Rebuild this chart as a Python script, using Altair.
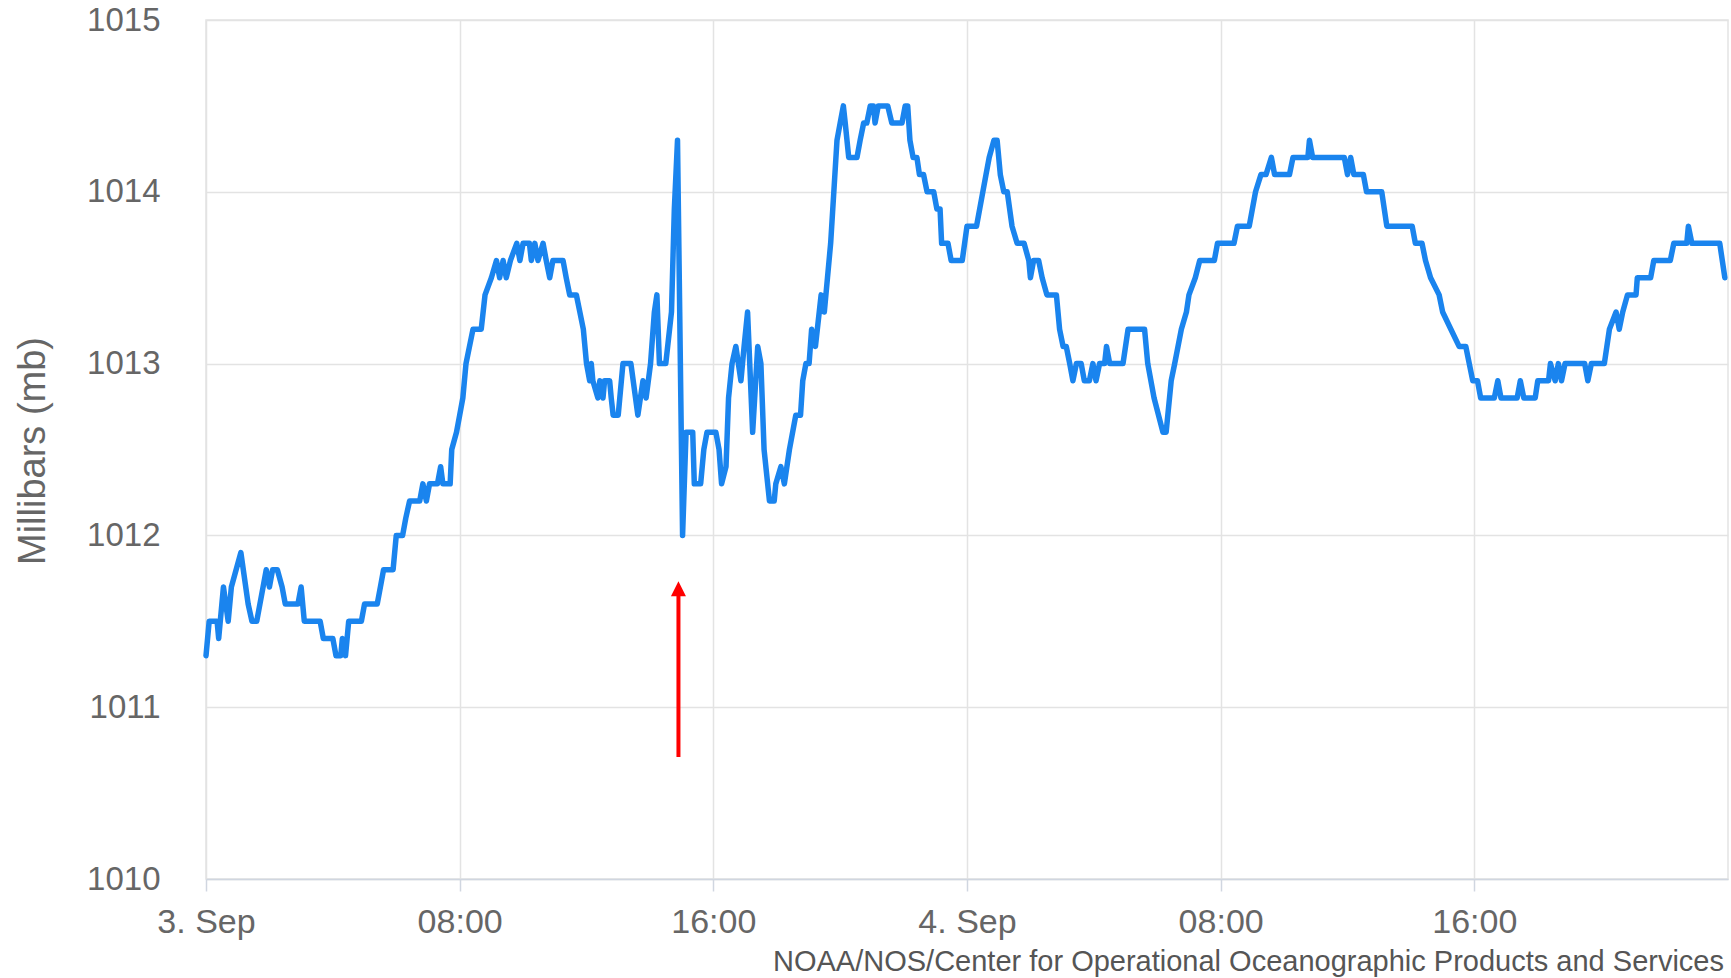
import altair as alt
import pandas as pd

# Hours since 3 Sep 00:00 and barometric pressure (mb)
HOURS = [
    0.0, 0.1, 0.35, 0.4, 0.55, 0.7, 0.8, 1.1, 1.33, 1.45, 1.6, 1.8, 1.9, 2.0, 2.1, 2.25,
    2.4, 2.5, 2.9, 3.0, 3.1, 3.6, 3.7, 4.0, 4.1, 4.25, 4.3, 4.4, 4.5, 4.9, 5.0, 5.4,
    5.5, 5.6, 5.9, 6.0, 6.2, 6.3, 6.42, 6.74, 6.84, 6.95, 7.05, 7.3, 7.4, 7.47, 7.7,
    7.75, 7.9, 8.0, 8.1, 8.2, 8.42, 8.68, 8.8, 9.0, 9.16, 9.26, 9.37, 9.47, 9.6, 9.8,
    9.9, 10.0, 10.2, 10.26, 10.37, 10.47, 10.63, 10.73, 10.84, 10.94, 11.26, 11.36,
    11.47, 11.68, 11.79, 11.9, 12.0, 12.1, 12.15, 12.2, 12.36, 12.42, 12.52, 12.57,
    12.73, 12.78, 12.84, 13.0, 13.15, 13.4, 13.62, 13.78, 13.88, 14.02, 14.14, 14.22,
    14.3, 14.5, 14.68, 14.77, 14.87, 15.03, 15.14, 15.35, 15.4, 15.6, 15.7, 15.8,
    16.08, 16.18, 16.26, 16.4, 16.48, 16.59, 16.71, 16.87, 16.97, 17.08, 17.24, 17.4,
    17.5, 17.6, 17.77, 17.92, 17.97, 18.13, 18.24, 18.4, 18.6, 18.75, 18.82, 18.92,
    19.02, 19.1, 19.22, 19.4, 19.5, 19.6, 19.7, 19.8, 19.9, 20.0, 20.1, 20.16, 20.27,
    20.53, 20.63, 20.74, 20.84, 20.95, 21.05, 21.1, 21.2, 21.5, 21.63, 21.95, 22.05,
    22.13, 22.2, 22.3, 22.42, 22.5, 22.63, 22.74, 22.95, 23.05, 23.15, 23.2, 23.4,
    23.5, 23.85, 24.0, 24.3, 24.4, 24.5, 24.6, 24.7, 24.85, 24.95, 25.05, 25.16,
    25.27, 25.42, 25.58, 25.8, 25.95, 26.0, 26.1, 26.26, 26.37, 26.52, 26.82, 26.92,
    27.03, 27.13, 27.24, 27.34, 27.45, 27.6, 27.7, 27.86, 27.97, 28.07, 28.18, 28.34,
    28.4, 28.5, 28.92, 29.08, 29.6, 29.7, 29.9, 30.18, 30.28, 30.44, 30.55, 30.76,
    30.92, 31.0, 31.2, 31.34, 31.8, 31.9, 32.42, 32.53, 32.9, 33.0, 33.1, 33.27,
    33.43, 33.6, 33.7, 34.17, 34.28, 34.75, 34.8, 34.9, 35.9, 36.0, 36.1, 36.2, 36.5,
    36.6, 37.08, 37.24, 38.04, 38.14, 38.35, 38.46, 38.62, 38.89, 39.0, 39.26, 39.52,
    39.73, 39.95, 40.1, 40.2, 40.63, 40.74, 40.84, 41.35, 41.45, 41.56, 41.92, 42.0,
    42.34, 42.4, 42.55, 42.65, 42.75, 42.86, 43.48, 43.58, 43.69, 44.1, 44.26, 44.47,
    44.57, 44.68, 44.83, 45.1, 45.14, 45.56, 45.66, 46.18, 46.29, 46.7, 46.75, 46.86,
    47.74, 47.9,
]
PRESSURE = [
    1011.3, 1011.5, 1011.5, 1011.4, 1011.7, 1011.5, 1011.7, 1011.9, 1011.6, 1011.5,
    1011.5, 1011.7, 1011.8, 1011.7, 1011.8, 1011.8, 1011.7, 1011.6, 1011.6, 1011.7,
    1011.5, 1011.5, 1011.4, 1011.4, 1011.3, 1011.3, 1011.4, 1011.3, 1011.5, 1011.5,
    1011.6, 1011.6, 1011.7, 1011.8, 1011.8, 1012.0, 1012.0, 1012.1, 1012.2, 1012.2,
    1012.3, 1012.2, 1012.3, 1012.3, 1012.4, 1012.3, 1012.3, 1012.5, 1012.6, 1012.7,
    1012.8, 1013.0, 1013.2, 1013.2, 1013.4, 1013.5, 1013.6, 1013.5, 1013.6, 1013.5,
    1013.6, 1013.7, 1013.6, 1013.7, 1013.7, 1013.6, 1013.7, 1013.6, 1013.7, 1013.6,
    1013.5, 1013.6, 1013.6, 1013.5, 1013.4, 1013.4, 1013.3, 1013.2, 1013.0, 1012.9,
    1013.0, 1012.9, 1012.8, 1012.9, 1012.8, 1012.9, 1012.9, 1012.8, 1012.7, 1012.7,
    1013.0, 1013.0, 1012.7, 1012.9, 1012.8, 1013.0, 1013.3, 1013.4, 1013.0, 1013.0,
    1013.3, 1013.9, 1014.3, 1012.0, 1012.6, 1012.6, 1012.3, 1012.3, 1012.5, 1012.6,
    1012.6, 1012.5, 1012.3, 1012.4, 1012.8, 1013.0, 1013.1, 1012.9, 1013.1, 1013.3,
    1012.6, 1013.1, 1013.0, 1012.5, 1012.2, 1012.2, 1012.3, 1012.4, 1012.3, 1012.5,
    1012.7, 1012.7, 1012.9, 1013.0, 1013.0, 1013.2, 1013.1, 1013.4, 1013.3, 1013.5,
    1013.7, 1014.0, 1014.3, 1014.4, 1014.5, 1014.4, 1014.2, 1014.2, 1014.3, 1014.4,
    1014.4, 1014.5, 1014.5, 1014.4, 1014.5, 1014.5, 1014.4, 1014.4, 1014.5, 1014.5,
    1014.3, 1014.2, 1014.2, 1014.1, 1014.1, 1014.0, 1014.0, 1013.9, 1013.9, 1013.7,
    1013.7, 1013.6, 1013.6, 1013.8, 1013.8, 1013.9, 1014.0, 1014.1, 1014.2, 1014.3,
    1014.3, 1014.1, 1014.0, 1014.0, 1013.8, 1013.7, 1013.7, 1013.6, 1013.5, 1013.6,
    1013.6, 1013.5, 1013.4, 1013.4, 1013.2, 1013.1, 1013.1, 1013.0, 1012.9, 1013.0,
    1013.0, 1012.9, 1012.9, 1013.0, 1012.9, 1013.0, 1013.0, 1013.1, 1013.0, 1013.0,
    1013.2, 1013.2, 1013.0, 1012.8, 1012.6, 1012.6, 1012.9, 1013.0, 1013.2, 1013.3,
    1013.4, 1013.5, 1013.6, 1013.6, 1013.7, 1013.7, 1013.8, 1013.8, 1013.9, 1014.0,
    1014.1, 1014.1, 1014.2, 1014.1, 1014.1, 1014.2, 1014.2, 1014.3, 1014.2, 1014.2,
    1014.1, 1014.2, 1014.1, 1014.1, 1014.0, 1014.0, 1013.8, 1013.8, 1013.7, 1013.7,
    1013.6, 1013.5, 1013.4, 1013.3, 1013.2, 1013.1, 1013.1, 1012.9, 1012.9, 1012.8,
    1012.8, 1012.9, 1012.8, 1012.8, 1012.9, 1012.8, 1012.8, 1012.9, 1012.9, 1013.0,
    1012.9, 1013.0, 1012.9, 1013.0, 1013.0, 1012.9, 1013.0, 1013.0, 1013.2, 1013.3,
    1013.2, 1013.3, 1013.4, 1013.4, 1013.5, 1013.5, 1013.6, 1013.6, 1013.7, 1013.7,
    1013.8, 1013.7, 1013.7, 1013.5,
]

X_TICKS = [0, 8, 16, 24, 32, 40]
Y_TICKS = [1010, 1011, 1012, 1013, 1014, 1015]
Y_TITLE = "Millibars (mb)"
CREDIT = "NOAA/NOS/Center for Operational Oceanographic Products and Services"

# annotation arrow (data units)
ARROW_X = [14.9]
ARROW_Y0 = [1010.71]
ARROW_Y1 = [1011.66]
ARROW_HEAD_Y = [1011.69]

FONT = "Liberation Sans"
LINE_COLOR = "#1a84ee"
GRID = "#e3e3e3"

df = pd.DataFrame({"h": HOURS, "p": PRESSURE})
arrow_df = pd.DataFrame({"h": ARROW_X, "y0": ARROW_Y0, "y1": ARROW_Y1, "yh": ARROW_HEAD_Y})
credit_df = pd.DataFrame({"t": [CREDIT]})

W, H = 1522, 859

x_enc = alt.X(
    "h:Q",
    scale=alt.Scale(domain=[0, 48], nice=False, zero=False),
    axis=alt.Axis(
        values=X_TICKS,
        labelExpr="datum.value == 0 ? '3. Sep' : datum.value == 24 ? '4. Sep' : "
                  "((datum.value % 24) < 10 ? '0' : '') + (datum.value % 24) + ':00'",
        title=None,
        grid=True,
        gridColor=GRID,
        gridWidth=1.5,
        domain=True,
        domainColor="#d0d6e0",
        domainWidth=1.5,
        ticks=True,
        tickColor="#d0d6e0",
        tickSize=12,
        tickWidth=1.5,
        labelPadding=14,
        labelFont=FONT,
        labelFontSize=34,
        labelColor="#666666",
        labelFlush=False,
        labelOverlap=False,
    ),
)

y_enc = alt.Y(
    "p:Q",
    scale=alt.Scale(domain=[1010, 1015], nice=False, zero=False),
    axis=alt.Axis(
        values=Y_TICKS,
        format="d",
        title=Y_TITLE,
        titleFont=FONT,
        titleFontSize=38,
        titleFontWeight="normal",
        titleColor="#666666",
        titleX=-173,
        titleY=H / 2 + 1,
        titleAngle=-90,
        titleAlign="center",
        titleBaseline="middle",
        grid=True,
        gridColor=GRID,
        gridWidth=1.5,
        domain=False,
        ticks=False,
        labelPadding=46,
        labelFont=FONT,
        labelFontSize=33,
        labelColor="#666666",
        labelBaseline="middle",
    ),
)

line = alt.Chart(df).mark_line(
    color=LINE_COLOR, strokeWidth=5.5, strokeJoin="round", strokeCap="round"
).encode(x=x_enc, y=y_enc)

shaft = alt.Chart(arrow_df).mark_rule(color="#ff0000", strokeWidth=4).encode(
    x="h:Q", y="y0:Q", y2="y1:Q"
)
head = alt.Chart(arrow_df).mark_point(
    shape="M0,-1L1,1L-1,1Z", size=225, filled=True, color="#ff0000", opacity=1
).encode(x="h:Q", y="yh:Q")

credit = alt.Chart(credit_df).mark_text(
    font=FONT, fontSize=29, color="#555555", align="right", baseline="middle"
).encode(text="t:N", x=alt.value(W - 4), y=alt.value(H + 83))

chart = (
    alt.layer(line, shaft, head, credit)
    .properties(
        width=W,
        height=H,
        autosize=alt.AutoSizeParams(type="none"),
        padding={"left": 206, "top": 20, "right": 3, "bottom": 99},
        background="white",
    )
    .configure_view(stroke=GRID, strokeWidth=1.5)
)

chart.save("out.html", embed_options={"renderer": "svg", "actions": False})
